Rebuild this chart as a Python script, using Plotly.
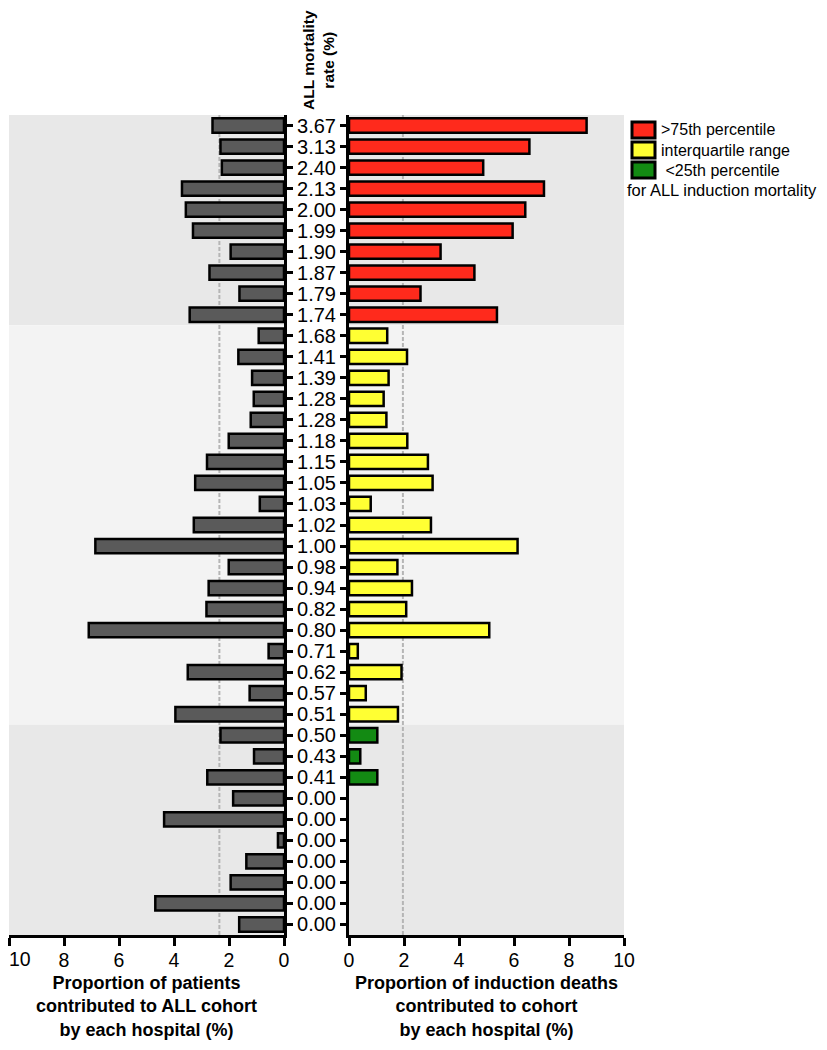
import plotly.graph_objects as go

# ---------------- data ----------------
mortality_labels = ["3.67", "3.13", "2.40", "2.13", "2.00", "1.99", "1.90", "1.87", "1.79", "1.74",
                    "1.68", "1.41", "1.39", "1.28", "1.28", "1.18", "1.15", "1.05", "1.03", "1.02",
                    "1.00", "0.98", "0.94", "0.82", "0.80", "0.71", "0.62", "0.57", "0.51",
                    "0.50", "0.43", "0.41",
                    "0.00", "0.00", "0.00", "0.00", "0.00", "0.00", "0.00"]

patients_pct = [2.60, 2.31, 2.26, 3.71, 3.57, 3.31, 1.94, 2.71, 1.62, 3.43,
                0.92, 1.66, 1.16, 1.10, 1.21, 2.01, 2.80, 3.23, 0.88, 3.28,
                6.86, 2.01, 2.74, 2.82, 7.10, 0.56, 3.50, 1.25, 3.95,
                2.31, 1.09, 2.79,
                1.85, 4.36, 0.22, 1.37, 1.94, 4.68, 1.63]

deaths_pct = [8.64, 6.56, 4.88, 7.09, 6.41, 5.95, 3.33, 4.56, 2.60, 5.38,
              1.39, 2.11, 1.44, 1.26, 1.36, 2.12, 2.87, 3.04, 0.79, 2.98,
              6.13, 1.76, 2.29, 2.08, 5.10, 0.32, 1.91, 0.61, 1.78,
              1.03, 0.41, 1.03,
              0, 0, 0, 0, 0, 0, 0]

group = (["high"] * 10 + ["mid"] * 19 + ["low"] * 3 + ["none"] * 7)

group_names = {"high": ">75th percentile",
               "mid": "interquartile range",
               "low": " <25th percentile"}
legend_footer = "for ALL induction mortality"

left_ref_line = 2.35
right_ref_line = 1.96

x_ticks = [0, 2, 4, 6, 8, 10]
x_tick_labels = ["0", "2", "4", "6", "8", "10"]

left_title = "Proportion of patients<br>contributed to ALL cohort<br>by each hospital (%)"
right_title = "Proportion of induction deaths<br>contributed to cohort<br>by each hospital (%)"
header_title = "ALL mortality<br>rate (%)"

# ---------------- styling ----------------
# The page body has an 8px margin, so the figure is sized to fit inside the
# 827x1050 window and positions are given in window pixels.
PAGE_MARGIN = 8
W, H = 827 - 2 * PAGE_MARGIN, 1050 - 2 * PAGE_MARGIN
FONT = "Liberation Sans, Arial, Helvetica, sans-serif"
group_colors = {"high": "#FF2A1C", "mid": "#FFFF33", "low": "#138A13", "none": "#138A13"}
band_colors = {"high": "#E8E8E8", "mid": "#F3F3F3", "low": "#E8E8E8", "none": "#E8E8E8"}
bar_gray = "#5A5A5A"


def fx(px):
    return (px - PAGE_MARGIN) / W


def fy(py):
    return 1 - (py - PAGE_MARGIN) / H


idx = list(range(len(mortality_labels)))
n = len(idx)

fig = go.Figure()

# left panel: patients
fig.add_trace(go.Bar(
    y=idx, x=patients_pct, orientation="h", xaxis="x", yaxis="y",
    width=0.68, marker=dict(color=bar_gray, line=dict(color="black", width=2.5)),
    showlegend=False, hoverinfo="x+y"))

# right panel: deaths, one trace per group
for g in ["high", "mid", "low"]:
    ys = [i for i in idx if group[i] == g]
    xs = [deaths_pct[i] for i in ys]
    fig.add_trace(go.Bar(
        y=ys, x=xs, orientation="h", xaxis="x2", yaxis="y2", name=group_names[g],
        width=0.68, marker=dict(color=group_colors[g], line=dict(color="black", width=2.5)),
        showlegend=False))

shapes = []
# background bands from contiguous runs of band colour
start = 0
for i in range(1, n + 1):
    if i == n or band_colors[group[i]] != band_colors[group[start]]:
        for xr, yr in (("x domain", "y"), ("x2 domain", "y2")):
            shapes.append(dict(type="rect", xref=xr, yref=yr, x0=0, x1=1,
                               y0=start - 0.5, y1=i - 0.5, layer="below",
                               fillcolor=band_colors[group[start]], line=dict(width=0)))
        start = i

# dashed reference lines
for xr, val in (("x", left_ref_line), ("x2", right_ref_line)):
    shapes.append(dict(type="line", xref=xr, yref="paper", x0=val, x1=val,
                       y0=fy(935), y1=fy(115), layer="below",
                       line=dict(color="#B5B5B5", width=2, dash="4px,2px")))

# legend swatches
legend_rows = [(122, 138, "high"), (142, 158, "mid"), (162, 178, "low")]
annotations = []
for y0, y1, g in legend_rows:
    shapes.append(dict(type="rect", xref="paper", yref="paper",
                       x0=fx(632), x1=fx(655), y0=fy(y1), y1=fy(y0),
                       fillcolor=group_colors[g], line=dict(color="black", width=3)))
    annotations.append(dict(xref="paper", yref="paper", x=fx(659), y=fy((y0 + y1) / 2),
                            xanchor="left", yanchor="middle", showarrow=False,
                            text=group_names[g], font=dict(family=FONT, size=16, color="black")))
annotations.append(dict(xref="paper", yref="paper", x=1, y=fy(190),
                        xanchor="right", yanchor="middle", showarrow=False,
                        text=legend_footer, font=dict(family=FONT, size=16.5, color="black")))

# column header
annotations.append(dict(xref="paper", yref="paper", x=fx(318), y=fy(60),
                        xanchor="center", yanchor="middle", showarrow=False, textangle=-90,
                        text=header_title,
                        font=dict(family=FONT, size=15.5, color="black", weight="bold")))

title_font = dict(family=FONT, size=18, color="black", weight="bold")
tick_font = dict(family=FONT, size=19.5, color="black")

# axis titles, placed below the tick labels of each panel
for xr, txt in (("x domain", left_title), ("x2 domain", right_title)):
    annotations.append(dict(xref=xr, yref="paper", x=0.5, y=fy(1006.5),
                            xanchor="center", yanchor="middle", showarrow=False, borderpad=0,
                            text=txt, font=title_font))

# the left-most "10" tick label sits at the window edge: draw it left-aligned at its tick
annotations.append(dict(xref="x", yref="paper", x=x_ticks[-1], y=fy(959),
                        xanchor="left", yanchor="middle", showarrow=False, xshift=-1, borderpad=0,
                        text=x_tick_labels[-1], font=tick_font))
left_tick_text = x_tick_labels[:-1] + [""]

common_x = dict(showgrid=False, zeroline=False, showline=True, linecolor="black", linewidth=3,
                ticks="outside", ticklen=8, tickwidth=3, tickcolor="black", automargin=False,
                ticklabelstandoff=-2,
                tickvals=x_ticks, tickfont=tick_font, fixedrange=True)
common_y = dict(showgrid=False, zeroline=False, showline=True, linecolor="black", linewidth=3,
                ticks="outside", ticklen=6, tickwidth=2.5, tickcolor="black", automargin=False,
                tickvals=idx, range=[n - 0.5, -0.5], domain=[fy(935), fy(115)], fixedrange=True)

fig.update_layout(
    width=W, height=H, autosize=False,
    margin=dict(l=0, r=0, t=0, b=0, pad=0),
    paper_bgcolor="white", plot_bgcolor="white",
    font=dict(family=FONT, color="black"),
    xaxis=dict(domain=[fx(9), fx(284)], range=[10, 0], anchor="y", ticktext=left_tick_text,
               **common_x),
    xaxis2=dict(domain=[fx(349), fx(624)], range=[0, 10], anchor="y2", ticktext=x_tick_labels,
                **common_x),
    yaxis=dict(anchor="x", side="right", showticklabels=False, **common_y),
    yaxis2=dict(anchor="x2", side="left", ticktext=mortality_labels,
                tickfont=dict(family=FONT, size=20, color="black"), **common_y),
    shapes=shapes,
    annotations=annotations,
)

fig.write_html("out.html")
